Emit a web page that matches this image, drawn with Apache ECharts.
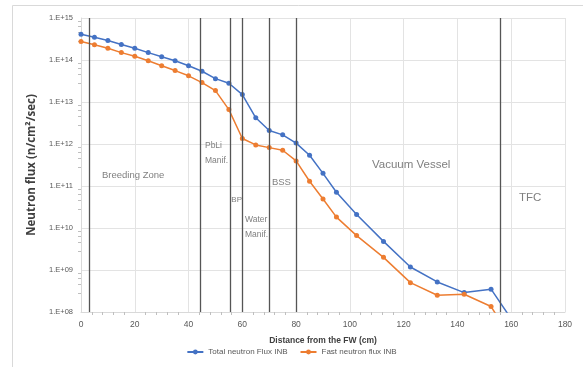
<!DOCTYPE html>
<html><head><meta charset="utf-8">
<script src="https://cdn.jsdelivr.net/npm/echarts@6/dist/echarts.min.js"></script>
<style>html,body{margin:0;padding:0;background:#fff}#c{width:583px;height:367px}</style>
</head><body><div id="c"></div>
<script>
const distance = [0, 5, 10, 15, 20, 25, 30, 35, 40, 45, 50, 55, 60, 65, 70, 75, 80, 85, 90, 95, 102.5, 112.5, 122.5, 132.5, 142.5, 152.5, 162.5];
const totalFlux = [4.1e14, 3.5e14, 2.9e14, 2.35e14, 1.9e14, 1.5e14, 1.2e14, 9.6e13, 7.3e13, 5.4e13, 3.6e13, 2.8e13, 1.5e13, 4.2e12, 2.1e12, 1.65e12, 1.05e12, 5.4e11, 2.0e11, 7.1e10, 2.1e10, 4.8e9, 1.18e9, 5.2e8, 2.9e8, 3.5e8, 4e7];
const fastFlux = [2.75e14, 2.3e14, 1.9e14, 1.5e14, 1.23e14, 9.6e13, 7.3e13, 5.6e13, 4.2e13, 2.9e13, 1.87e13, 6.6e12, 1.35e12, 9.5e11, 8.2e11, 7.1e11, 3.95e11, 1.3e11, 4.9e10, 1.82e10, 6.6e9, 2.0e9, 5.0e8, 2.5e8, 2.65e8, 1.35e8, 1.3e7];
const boundaries = [3, 44.5, 55.5, 60, 70, 80, 156];
const regionLabels = [
  {text: 'Breeding Zone', x: 7.8, y: 1.8e11, size: 9.5},
  {text: 'PbLi\nManif.', x: 46.1, y: 5.9e11, size: 8.5},
  {text: 'BP', x: 55.9, y: 4.7e10, size: 8},
  {text: 'Water\nManif.', x: 61, y: 1.07e10, size: 8.5},
  {text: 'BSS', x: 71, y: 1.2e11, size: 9.5},
  {text: 'Vacuum Vessel', x: 108.2, y: 3.2e11, size: 11.5},
  {text: 'TFC', x: 162.9, y: 5.2e10, size: 11.5}
];
const seriesNames = ['Total neutron Flux INB', 'Fast neutron flux INB'];
const xTicks = {min: 0, max: 180, interval: 20};
const yRange = {min: 1e8, max: 1e15};

const FONT = "'Liberation Sans',sans-serif";
const chart = echarts.init(document.getElementById('c'), null, {renderer: 'canvas'});
const pair = (xs, ys) => xs.map((x, i) => [x, ys[i]]);

chart.setOption({
  animation: false,
  graphic: [{type: 'rect', shape: {x: 12.5, y: 5.5, width: 620, height: 420}, style: {fill: 'none', stroke: '#d9d9d9', lineWidth: 1}, silent: true}],
  grid: {left: 81, top: 18, width: 484, height: 294, containLabel: false},
  legend: {
    bottom: 6, left: 'center', itemWidth: 16, itemHeight: 6, itemGap: 12,
    textStyle: {fontFamily: FONT, fontSize: 8, color: '#595959'},
    data: seriesNames
  },
  xAxis: {
    type: 'value', min: xTicks.min, max: xTicks.max, interval: xTicks.interval,
    name: 'Distance from the FW (cm)', nameLocation: 'middle', nameGap: 24,
    nameTextStyle: {fontFamily: FONT, fontSize: 8.5, color: '#404040', fontWeight: 'bold'},
    axisLine: {lineStyle: {color: '#d9d9d9'}},
    axisTick: {show: false},
    minorTick: {show: true, splitNumber: 5, length: 3, lineStyle: {color: '#bfbfbf'}},
    axisLabel: {fontFamily: FONT, fontSize: 8.5, color: '#595959', margin: 8},
    splitLine: {show: true, lineStyle: {color: '#e3e3e3'}}
  },
  yAxis: {
    type: 'log', logBase: 10, min: yRange.min, max: yRange.max,
    name: 'Neutron flux (n/cm²/sec)', nameLocation: 'middle', nameGap: 33,
    nameTextStyle: {fontFamily: "'Open Sans',sans-serif", fontSize: 11.5, color: '#404040', fontWeight: 'bold'},
    axisLine: {show: true, lineStyle: {color: '#d9d9d9'}},
    axisTick: {show: false},
    minorTick: {show: true, splitNumber: 5, length: 3, lineStyle: {color: '#bfbfbf'}},
    axisLabel: {fontFamily: FONT, fontSize: 7.5, color: '#595959', margin: 8,
      formatter: v => '1.E+' + String(Math.round(Math.log10(v))).padStart(2, '0')},
    splitLine: {show: true, lineStyle: {color: '#e3e3e3'}}
  },
  series: [
    {
      name: seriesNames[0], type: 'line', data: pair(distance, totalFlux), clip: true,
      symbol: 'circle', symbolSize: 5, color: '#4472C4', lineStyle: {width: 1.5}, z: 3,
      markLine: {
        silent: true, symbol: 'none', label: {show: false},
        lineStyle: {color: '#555555', width: 1.3, type: 'solid'},
        data: boundaries.map(b => ({xAxis: b}))
      },
      markPoint: {
        silent: true, symbol: 'circle', symbolSize: 0,
        data: regionLabels.map(r => ({
          coord: [r.x, r.y], value: r.text,
          label: {show: true, formatter: r.text, position: 'right', distance: 0,
            fontFamily: FONT, fontSize: r.size, color: '#7f7f7f', lineHeight: 15}
        }))
      }
    },
    {
      name: seriesNames[1], type: 'line', data: pair(distance, fastFlux), clip: true,
      symbol: 'circle', symbolSize: 5, color: '#ED7D31', lineStyle: {width: 1.5}, z: 3
    }
  ]
});
</script></body></html>
